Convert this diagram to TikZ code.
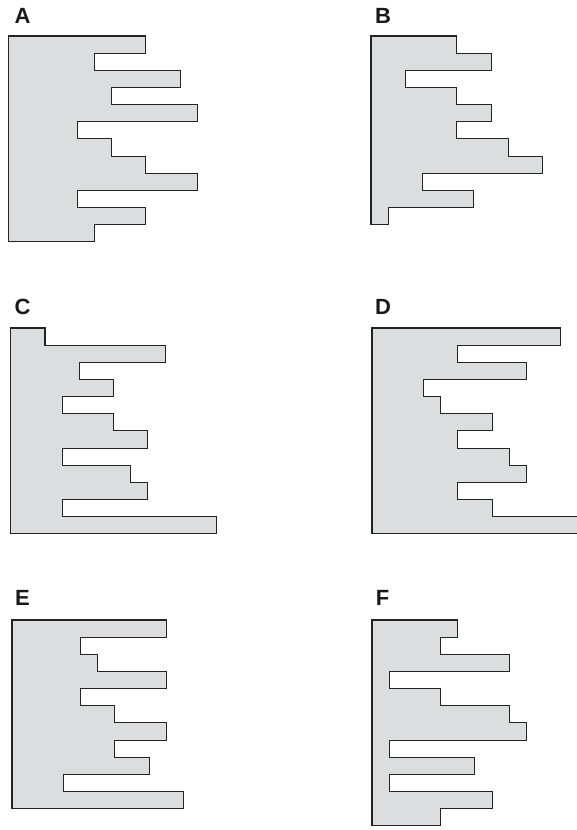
\documentclass[tikz,border=0pt]{standalone}
\usepackage{fontspec}
\setmainfont{Liberation Sans}
\definecolor{panelfill}{RGB}{220,221,223}
\definecolor{panelline}{RGB}{35,35,35}
\tikzset{
  panel/.style={fill=panelfill, draw=panelline, line width=1.1pt, line join=miter},
  plabel/.style={inner sep=0pt, font=\fontsize{22}{22}\selectfont\bfseries, text=black!90}
}
\begin{document}
\begin{tikzpicture}[x=1pt,y=-1pt]
\useasboundingbox (0,0) rectangle (577,830);
\clip (0,0) rectangle (577,830);
% labels
\node[plabel] (lA) at (22.5,16) {A};
\node[plabel] (lB) at (383,15.5) {B};
\node[plabel] (lC) at (22.5,306.7) {C};
\node[plabel] (lD) at (383,307) {D};
\node[plabel] (lE) at (22.5,598) {E};
\node[plabel] (lF) at (382.7,597.8) {F};
% A
\begin{scope}[shift={(8.7,36)}, x=17.15pt, y=-17.15pt]
\draw[panel] (0,0)--(8,0)--(8,1)--(5,1)--(5,2)--(10,2)--(10,3)--(6,3)--(6,4)--(11,4)--(11,5)--(4,5)--(4,6)--(6,6)--(6,7)--(8,7)--(8,8)--(11,8)--(11,9)--(4,9)--(4,10)--(8,10)--(8,11)--(5,11)--(5,12)--(0,12)--cycle;
\end{scope}
% B
\begin{scope}[shift={(371,36)}, x=17.15pt, y=-17.15pt]
\draw[panel] (0,0)--(5,0)--(5,1)--(7,1)--(7,2)--(2,2)--(2,3)--(5,3)--(5,4)--(7,4)--(7,5)--(5,5)--(5,6)--(8,6)--(8,7)--(10,7)--(10,8)--(3,8)--(3,9)--(6,9)--(6,10)--(1,10)--(1,11)--(0,11)--cycle;
\end{scope}
% C
\begin{scope}[shift={(10.7,328)}, x=17.15pt, y=-17.15pt]
\draw[panel] (0,0)--(2,0)--(2,1)--(9,1)--(9,2)--(4,2)--(4,3)--(6,3)--(6,4)--(3,4)--(3,5)--(6,5)--(6,6)--(8,6)--(8,7)--(3,7)--(3,8)--(7,8)--(7,9)--(8,9)--(8,10)--(3,10)--(3,11)--(12,11)--(12,12)--(0,12)--cycle;
\end{scope}
% D
\begin{scope}[shift={(372,328)}, x=17.15pt, y=-17.15pt]
\draw[panel] (0,0)--(11,0)--(11,1)--(5,1)--(5,2)--(9,2)--(9,3)--(3,3)--(3,4)--(4,4)--(4,5)--(7,5)--(7,6)--(5,6)--(5,7)--(8,7)--(8,8)--(9,8)--(9,9)--(5,9)--(5,10)--(7,10)--(7,11)--(12.3,11)--(12.3,12)--(0,12)--cycle;
\end{scope}
% E
\begin{scope}[shift={(12,620)}, x=17.15pt, y=-17.15pt]
\draw[panel] (0,0)--(9,0)--(9,1)--(4,1)--(4,2)--(5,2)--(5,3)--(9,3)--(9,4)--(4,4)--(4,5)--(6,5)--(6,6)--(9,6)--(9,7)--(6,7)--(6,8)--(8,8)--(8,9)--(3,9)--(3,10)--(10,10)--(10,11)--(0,11)--cycle;
\end{scope}
% F
\begin{scope}[shift={(372,620)}, x=17.15pt, y=-17.15pt]
\draw[panel] (0,0)--(5,0)--(5,1)--(4,1)--(4,2)--(8,2)--(8,3)--(1,3)--(1,4)--(4,4)--(4,5)--(8,5)--(8,6)--(9,6)--(9,7)--(1,7)--(1,8)--(6,8)--(6,9)--(1,9)--(1,10)--(7,10)--(7,11)--(4,11)--(4,12)--(0,12)--cycle;
\end{scope}
\end{tikzpicture}
\end{document}
